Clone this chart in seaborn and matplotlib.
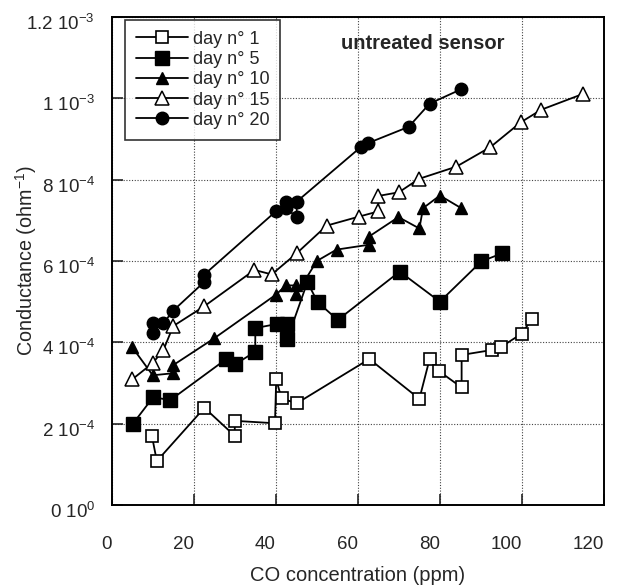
import matplotlib
matplotlib.use("Agg")
import matplotlib.pyplot as plt
import matplotlib.transforms as mtransforms
import seaborn as sns
import pandas as pd

# CO concentration (ppm) and conductance (units of 1e-4 ohm^-1) per measuring day
day1_x = [9.8, 11.0, 22.6, 30.0, 30.0, 39.8, 40.1, 41.4, 45.1, 62.8, 75.0, 77.5, 79.8, 85.3, 85.3, 92.6, 94.8, 99.9, 102.5]
day1_y = [1.70, 1.08, 2.39, 1.70, 2.07, 2.01, 3.09, 2.62, 2.50, 3.59, 2.61, 3.59, 3.29, 2.89, 3.69, 3.81, 3.88, 4.21, 4.58]

day5_x = [5.1, 10.1, 14.3, 27.8, 30.1, 35.0, 35.0, 40.2, 42.8, 42.8, 47.7, 50.2, 55.1, 70.2, 80.0, 90.1, 95.2]
day5_y = [1.99, 2.65, 2.58, 3.58, 3.46, 3.77, 4.35, 4.45, 4.45, 4.08, 5.48, 4.99, 4.55, 5.74, 5.00, 5.99, 6.19]

day10_x = [5.0, 10.0, 15.0, 15.0, 25.0, 40.0, 42.5, 45.0, 45.0, 50.0, 54.8, 62.7, 62.7, 69.9, 75.0, 75.9, 80.0, 85.2]
day10_y = [3.88, 3.19, 3.24, 3.44, 4.10, 5.17, 5.40, 5.40, 5.18, 6.00, 6.28, 6.40, 6.60, 7.08, 6.80, 7.30, 7.61, 7.30]

day15_x = [5.0, 10.0, 12.6, 15.0, 22.6, 34.8, 39.0, 45.1, 52.4, 60.2, 65.0, 65.0, 70.0, 74.9, 84.0, 92.3, 99.7, 104.7, 114.9]
day15_y = [3.09, 3.49, 3.81, 4.40, 4.89, 5.78, 5.67, 6.19, 6.87, 7.09, 7.22, 7.60, 7.69, 8.02, 8.32, 8.80, 9.41, 9.72, 10.11]

day20_x = [10.0, 10.0, 12.6, 15.0, 22.5, 22.5, 40.0, 42.5, 42.5, 45.1, 45.1, 60.7, 62.5, 72.4, 77.5, 85.1]
day20_y = [4.22, 4.47, 4.47, 4.78, 5.48, 5.66, 7.22, 7.46, 7.30, 7.08, 7.46, 8.80, 8.90, 9.30, 9.87, 10.22]

series_names = ["day n° 1", "day n° 5", "day n° 10", "day n° 15", "day n° 20"]

x_ticks = [0, 20, 40, 60, 80, 100, 120]
y_ticks = [0, 2e-4, 4e-4, 6e-4, 8e-4, 1e-3, 1.2e-3]
y_tick_labels = [r"0 $\mathregular{10^{0}}$", r"2 $\mathregular{10^{-4}}$", r"4 $\mathregular{10^{-4}}$",
                 r"6 $\mathregular{10^{-4}}$", r"8 $\mathregular{10^{-4}}$", r"1 $\mathregular{10^{-3}}$",
                 r"1.2 $\mathregular{10^{-3}}$"]

sns.set_style("ticks")
plt.rcParams["font.family"] = ["Liberation Sans", "DejaVu Sans"]
plt.rcParams["mathtext.fontset"] = "custom"
plt.rcParams["mathtext.rm"] = "Liberation Sans"

fig = plt.figure(figsize=(6.22, 5.87), dpi=100)
ax = fig.add_axes([0.1796, 0.1397, 0.7914, 0.8313])

styles = [
    dict(marker="s", mfc="white", ms=9, mew=1.2),
    dict(marker="s", mfc="black", ms=10, mew=1.0),
    dict(marker="^", mfc="black", ms=8.5, mew=1.0),
    dict(marker="^", mfc="white", ms=9.5, mew=1.1),
    dict(marker="o", mfc="black", ms=9, mew=1.0),
]
data = [(day1_x, day1_y), (day5_x, day5_y), (day10_x, day10_y), (day15_x, day15_y), (day20_x, day20_y)]

for (xs, ys), name, st in zip(data, series_names, styles):
    df = pd.DataFrame({"x": xs, "y": [v * 1e-4 for v in ys]})
    sns.lineplot(data=df, x="x", y="y", ax=ax, sort=False, estimator=None,
                 color="black", lw=1.3, marker=st["marker"], markersize=st["ms"],
                 markerfacecolor=st["mfc"], markeredgecolor="black",
                 markeredgewidth=st["mew"], label=name)

ax.set_xlim(0, 120)
ax.set_ylim(0, 1.2e-3)
ax.set_xticks(x_ticks)
ax.set_yticks(y_ticks)
ax.set_yticklabels(y_tick_labels)
ax.tick_params(axis="both", direction="in", length=8, width=1.2, labelsize=13.5)
ax.tick_params(axis="y", pad=12)
ax.tick_params(axis="x", pad=22)

# x labels sit right-aligned on their tick; y labels hang slightly below their tick
for lab in ax.get_xticklabels():
    lab.set_horizontalalignment("right")
y_shift = mtransforms.ScaledTranslation(0, -5 / 100, fig.dpi_scale_trans)
for lab in ax.get_yticklabels():
    lab.set_transform(lab.get_transform() + y_shift)

ax.grid(True, color="#444444", linestyle=(0, (1, 1.5)), linewidth=0.8)
for s in ax.spines.values():
    s.set_linewidth(1.4)
    s.set_color("black")

ax.set_xlabel("CO concentration (ppm)", fontsize=14.5, labelpad=10)
ax.set_ylabel(r"Conductance (ohm$\mathregular{^{-1}}$)", fontsize=14.2)
ax.yaxis.set_label_coords(-0.148, 0.5)

ax.text(0.632, 0.945, "untreated sensor", transform=ax.transAxes, fontsize=14.5,
        fontweight="bold", ha="center", va="center")

leg = ax.legend(loc="upper left", bbox_to_anchor=(0.027, 0.994), fontsize=13,
                frameon=True, fancybox=False, edgecolor="black", handlelength=2.9,
                borderpad=0.6, labelspacing=0.18, handletextpad=0.25, borderaxespad=0)
leg.get_frame().set_linewidth(1.2)

fig.savefig("out.png", dpi=100)
